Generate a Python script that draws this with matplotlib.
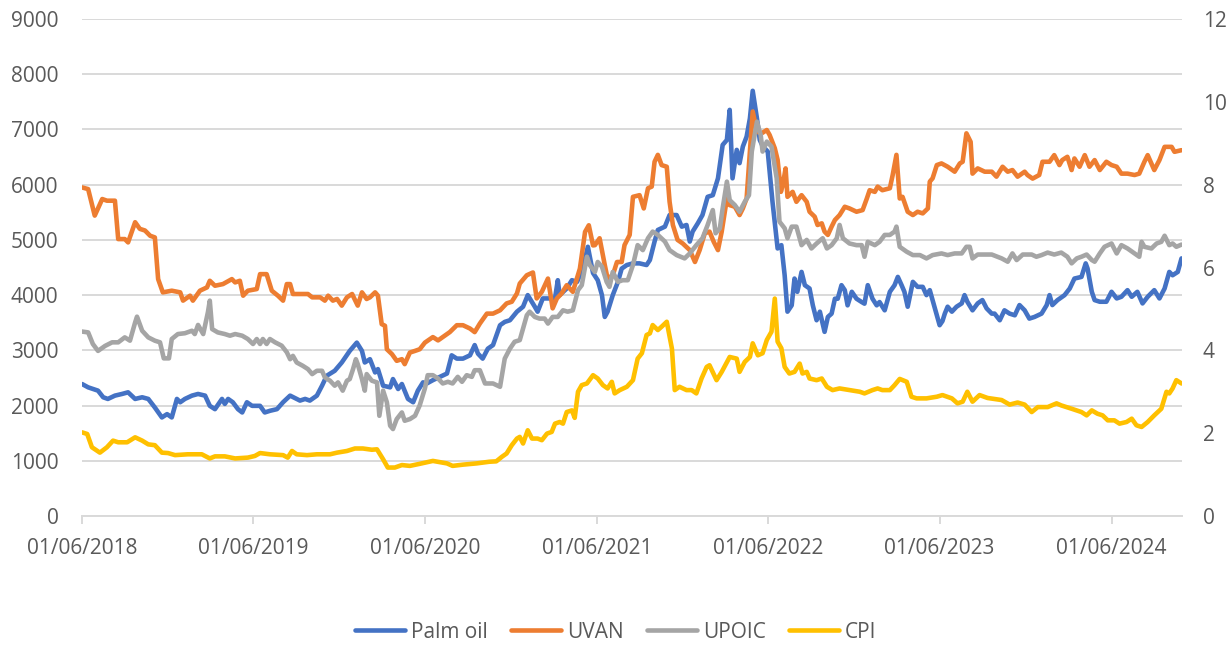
import matplotlib
matplotlib.use("Agg")
import matplotlib.pyplot as plt
import matplotlib.dates as mdates
import pandas as pd
from matplotlib.lines import Line2D

# ---------------- data ----------------
palm_oil = [
("2018-06-01",2390),("2018-06-14",2330),("2018-07-05",2270),("2018-07-16",2150),("2018-07-26",2120),("2018-08-10",2180),("2018-08-25",2210),("2018-09-07",2240),("2018-09-22",2120),("2018-10-07",2150),("2018-10-20",2120),("2018-11-03",1965),("2018-11-18",1785),("2018-11-29",1845),("2018-12-09",1785),("2018-12-20",2120),("2018-12-27",2060),
("2019-01-06",2120),("2019-01-21",2180),("2019-02-03",2210),("2019-02-18",2180),("2019-02-28",1995),("2019-03-11",1935),("2019-03-26",2120),("2019-04-01",2030),("2019-04-08",2120),("2019-04-18",2060),("2019-04-29",1935),("2019-05-08",1875),("2019-05-18",2060),("2019-05-29",1995),("2019-06-15",1995),("2019-06-25",1875),("2019-07-06",1905),("2019-07-21",1935),("2019-08-03",2060),("2019-08-18",2180),("2019-09-08",2090),("2019-09-19",2120),("2019-09-29",2090),("2019-10-14",2180),("2019-10-25",2360),("2019-11-04",2540),("2019-11-21",2630),("2019-12-06",2780),("2019-12-23",2990),
("2020-01-07",3140),("2020-01-18",2990),("2020-01-24",2780),("2020-02-04",2840),("2020-02-15",2600),("2020-02-21",2660),("2020-03-03",2360),("2020-03-18",2330),("2020-03-24",2480),("2020-04-04",2300),("2020-04-12",2390),("2020-04-25",2120),("2020-05-06",2060),("2020-05-16",2270),("2020-05-27",2420),("2020-06-04",2400),("2020-06-17",2460),("2020-07-02",2520),("2020-07-17",2580),("2020-07-27",2910),("2020-08-07",2850),("2020-08-20",2850),("2020-09-04",2910),("2020-09-14",3095),("2020-09-21",2940),("2020-10-01",2850),("2020-10-12",3030),("2020-10-23",3095),("2020-11-07",3455),("2020-11-17",3515),("2020-11-28",3545),("2020-12-13",3700),("2020-12-26",3790),
("2021-01-05",4000),("2021-01-20",3790),("2021-01-26",3700),("2021-02-06",3940),("2021-02-21",3940),("2021-03-04",3940),("2021-03-10",4270),("2021-03-14",4000),("2021-03-29",4120),("2021-04-09",4270),("2021-04-20",4240),("2021-05-02",4480),("2021-05-13",4875),("2021-05-24",4400),("2021-06-03",4270),("2021-06-12",4000),("2021-06-18",3605),("2021-06-24",3700),("2021-07-05",4000),("2021-07-16",4240),("2021-07-24",4480),("2021-08-04",4545),("2021-08-17",4575),("2021-08-31",4575),("2021-09-15",4545),("2021-09-22",4635),("2021-10-02",4970),("2021-10-09",5180),("2021-10-24",5240),("2021-11-03",5450),("2021-11-18",5450),("2021-11-29",5240),("2021-12-09",5270),("2021-12-16",4970),("2021-12-22",5150),
("2022-01-02",5300),("2022-01-12",5450),("2022-01-23",5780),("2022-02-03",5810),("2022-02-14",6115),("2022-02-24",6720),("2022-03-05",6810),("2022-03-11",7355),("2022-03-17",6115),("2022-03-26",6630),("2022-04-01",6390),("2022-04-08",6690),("2022-04-16",6870),("2022-04-23",7200),("2022-04-29",7700),("2022-05-08",7200),("2022-05-14",6810),("2022-05-20",6700),("2022-05-31",6600),("2022-06-10",5700),("2022-06-21",4845),("2022-06-29",4905),("2022-07-06",4360),("2022-07-12",3700),("2022-07-21",3815),("2022-07-27",4300),("2022-08-02",4060),("2022-08-11",4420),("2022-08-18",4180),("2022-08-28",4120),("2022-09-04",3815),("2022-09-12",3545),("2022-09-19",3700),("2022-09-29",3335),("2022-10-06",3605),("2022-10-14",3665),("2022-10-21",3935),("2022-10-27",3935),("2022-11-04",4180),("2022-11-11",4090),("2022-11-17",3815),("2022-11-26",4060),("2022-12-06",3935),("2022-12-17",3875),("2022-12-23",3845),("2022-12-30",4180),
("2023-01-09",3935),("2023-01-18",3815),("2023-01-24",3875),("2023-02-04",3725),("2023-02-15",4060),("2023-02-25",4180),("2023-03-04",4330),("2023-03-12",4180),("2023-03-18",4060),("2023-03-25",3790),("2023-04-05",4240),("2023-04-15",4150),("2023-04-26",4150),("2023-05-04",4000),("2023-05-11",4090),("2023-05-21",3790),("2023-06-01",3455),("2023-06-07",3530),("2023-06-12",3665),("2023-06-18",3790),("2023-06-27",3700),("2023-07-07",3790),("2023-07-18",3850),("2023-07-24",4000),("2023-07-30",3880),("2023-08-10",3725),("2023-08-21",3850),("2023-08-31",3910),("2023-09-09",3760),("2023-09-20",3665),("2023-09-26",3665),("2023-10-07",3545),("2023-10-17",3725),("2023-10-28",3665),("2023-11-08",3635),("2023-11-18",3820),("2023-11-29",3725),("2023-12-09",3575),("2023-12-20",3605),
("2024-01-04",3665),("2024-01-15",3820),("2024-01-21",4000),("2024-01-27",3820),("2024-02-07",3910),("2024-02-22",4000),("2024-03-04",4120),("2024-03-14",4300),("2024-03-29",4330),("2024-04-07",4575),("2024-04-11",4480),("2024-04-20",4060),("2024-04-26",3910),("2024-05-07",3880),("2024-05-21",3880),("2024-06-01",4060),("2024-06-12",3940),("2024-06-22",3970),("2024-07-05",4090),("2024-07-14",3970),("2024-07-26",4060),("2024-08-06",3850),("2024-08-17",3970),("2024-08-31",4090),("2024-09-11",3940),("2024-09-22",4120),("2024-10-02",4420),("2024-10-09",4360),("2024-10-20",4420),("2024-10-28",4665)]

uvan = [
("2018-06-01",5950),("2018-06-14",5920),("2018-06-28",5440),("2018-07-14",5740),("2018-07-24",5710),("2018-08-10",5710),("2018-08-17",5015),("2018-08-31",5015),("2018-09-07",4955),("2018-09-22",5320),("2018-10-02",5200),("2018-10-13",5170),("2018-10-24",5075),("2018-11-03",5045),("2018-11-10",4290),("2018-11-20",4050),("2018-12-09",4080),("2018-12-27",4050),
("2019-01-02",3900),("2019-01-17",3990),("2019-01-23",3900),("2019-02-07",4080),("2019-02-22",4140),("2019-02-28",4260),("2019-03-11",4170),("2019-03-28",4200),("2019-04-16",4290),("2019-04-23",4230),("2019-05-03",4260),("2019-05-10",3990),("2019-05-20",4080),("2019-06-08",4110),("2019-06-15",4380),("2019-06-29",4380),("2019-07-10",4080),("2019-07-23",3990),("2019-08-03",3900),("2019-08-11",4200),("2019-08-18",4200),("2019-08-24",4020),("2019-09-25",4020),("2019-10-04",3960),("2019-10-21",3960),("2019-10-31",3900),("2019-11-07",3990),("2019-11-17",3900),("2019-11-26",3930),("2019-12-06",3810),("2019-12-17",3960),("2019-12-28",4020),
("2020-01-09",3810),("2020-01-18",4050),("2020-01-28",3930),("2020-02-04",3960),("2020-02-15",4050),("2020-02-21",3990),("2020-02-29",3475),("2020-03-07",3445),("2020-03-11",3020),("2020-03-22",2930),("2020-04-01",2810),("2020-04-12",2840),("2020-04-18",2750),("2020-04-29",2960),("2020-05-10",2990),("2020-05-20",3020),("2020-05-31",3140),("2020-06-17",3240),("2020-06-28",3180),("2020-07-08",3240),("2020-07-23",3330),("2020-08-07",3455),("2020-08-20",3455),("2020-09-04",3395),("2020-09-14",3330),("2020-09-25",3485),("2020-10-10",3665),("2020-10-23",3665),("2020-11-07",3725),("2020-11-21",3850),("2020-12-02",3880),("2020-12-13",4030),("2020-12-19",4210),
("2021-01-03",4360),("2021-01-16",4410),("2021-01-24",3940),("2021-02-04",4060),("2021-02-17",4300),("2021-02-27",3760),("2021-03-08",3940),("2021-03-18",4030),("2021-03-29",4180),("2021-04-11",4060),("2021-04-26",4480),("2021-05-07",5145),("2021-05-15",5265),("2021-05-24",4900),("2021-05-28",4905),("2021-06-07",5030),("2021-06-18",4545),("2021-06-24",4300),("2021-07-05",4360),("2021-07-14",4600),("2021-07-24",4600),("2021-07-30",4905),("2021-08-10",5090),("2021-08-17",5780),("2021-08-31",5810),("2021-09-09",5570),("2021-09-18",5935),("2021-09-26",5965),("2021-10-02",6415),("2021-10-09",6540),("2021-10-17",6355),("2021-10-28",6325),("2021-11-03",5690),("2021-11-10",5270),("2021-11-20",5000),("2021-12-01",4935),("2021-12-16",4815),("2021-12-27",4600),
("2022-01-06",4815),("2022-01-17",5120),("2022-01-27",5150),("2022-02-05",4965),("2022-02-14",4815),("2022-02-22",5150),("2022-03-05",5750),("2022-03-11",5630),("2022-03-22",5600),("2022-04-01",5450),("2022-04-08",5570),("2022-04-16",5750),("2022-04-23",6600),("2022-04-29",7325),("2022-05-08",6960),("2022-05-18",6930),("2022-05-29",6990),("2022-06-04",6900),("2022-06-15",6660),("2022-06-21",6450),("2022-06-28",5870),("2022-07-02",5995),("2022-07-08",6295),("2022-07-12",5780),("2022-07-23",5870),("2022-07-31",5690),("2022-08-11",5810),("2022-08-22",5690),("2022-08-28",5510),("2022-09-08",5420),("2022-09-14",5270),("2022-09-23",5300),("2022-09-29",5150),("2022-10-06",5090),("2022-10-14",5240),("2022-10-21",5360),("2022-10-31",5450),("2022-11-11",5600),("2022-11-21",5570),("2022-12-06",5510),("2022-12-19",5540),("2022-12-28",5750),
("2023-01-03",5900),("2023-01-14",5870),("2023-01-20",5965),("2023-01-30",5900),("2023-02-15",5935),("2023-02-21",6175),("2023-03-01",6540),("2023-03-08",5750),("2023-03-14",5780),("2023-03-25",5510),("2023-04-05",5450),("2023-04-15",5510),("2023-04-26",5480),("2023-05-07",5570),("2023-05-11",6055),("2023-05-17",6115),("2023-05-26",6355),("2023-06-05",6385),("2023-06-18",6325),("2023-07-03",6235),("2023-07-14",6385),("2023-07-20",6415),("2023-07-28",6930),("2023-08-06",6775),("2023-08-10",6200),("2023-08-21",6295),("2023-09-05",6235),("2023-09-20",6235),("2023-09-30",6145),("2023-10-13",6325),("2023-10-24",6235),("2023-11-03",6265),("2023-11-14",6145),("2023-11-29",6235),("2023-12-05",6175),("2023-12-16",6110),("2023-12-30",6175),
("2024-01-06",6415),("2024-01-21",6415),("2024-01-31",6535),("2024-02-11",6355),("2024-02-17",6445),("2024-02-28",6505),("2024-03-08",6265),("2024-03-14",6475),("2024-03-25",6325),("2024-04-05",6535),("2024-04-15",6325),("2024-04-26",6445),("2024-05-07",6265),("2024-05-21",6415),("2024-06-01",6355),("2024-06-12",6325),("2024-06-22",6200),("2024-07-05",6200),("2024-07-20",6175),("2024-07-30",6200),("2024-08-10",6415),("2024-08-17",6535),("2024-08-31",6265),("2024-09-11",6445),("2024-09-22",6685),("2024-10-07",6685),("2024-10-13",6595),("2024-10-28",6625)]

upoic = [
("2018-06-01",3340),("2018-06-14",3325),("2018-06-24",3115),("2018-07-05",2990),("2018-07-20",3080),("2018-08-04",3145),("2018-08-17",3145),("2018-08-31",3235),("2018-09-11",3175),("2018-09-22",3505),("2018-09-26",3610),("2018-10-07",3355),("2018-10-20",3235),("2018-11-03",3175),("2018-11-14",3145),("2018-11-22",2855),("2018-12-03",2855),("2018-12-09",3205),("2018-12-22",3295),
("2019-01-06",3310),("2019-01-21",3355),("2019-01-27",3295),("2019-02-03",3460),("2019-02-14",3295),("2019-02-24",3690),("2019-02-28",3900),("2019-03-05",3385),("2019-03-17",3325),("2019-04-01",3295),("2019-04-12",3265),("2019-04-23",3295),("2019-05-08",3265),("2019-05-20",3205),("2019-05-31",3115),("2019-06-08",3205),("2019-06-15",3115),("2019-06-21",3205),("2019-06-29",3115),("2019-07-06",3205),("2019-07-17",3145),("2019-07-31",3085),("2019-08-11",2965),("2019-08-18",2840),("2019-08-24",2900),("2019-09-01",2780),("2019-09-14",2720),("2019-09-25",2660),("2019-10-04",2570),("2019-10-14",2630),("2019-10-25",2630),("2019-10-31",2510),("2019-11-11",2450),("2019-11-21",2360),("2019-11-28",2420),("2019-12-08",2270),("2019-12-17",2450),("2019-12-23",2480),("2019-12-30",2660),
("2020-01-05",2840),("2020-01-09",2750),("2020-01-18",2480),("2020-01-24",2270),("2020-01-28",2570),("2020-02-08",2450),("2020-02-19",2420),("2020-02-24",1815),("2020-03-03",2270),("2020-03-11",2060),("2020-03-18",1635),("2020-03-24",1575),("2020-04-01",1755),("2020-04-12",1875),("2020-04-18",1725),("2020-04-29",1755),("2020-05-10",1815),("2020-05-20",2005),("2020-05-31",2310),("2020-06-06",2550),("2020-06-17",2550),("2020-06-28",2490),("2020-07-08",2400),("2020-07-19",2430),("2020-07-29",2400),("2020-08-09",2520),("2020-08-18",2430),("2020-08-28",2550),("2020-09-08",2520),("2020-09-14",2640),("2020-09-25",2640),("2020-10-06",2400),("2020-10-23",2400),("2020-11-07",2340),("2020-11-17",2850),("2020-11-28",3030),("2020-12-08",3155),("2020-12-19",3185),("2020-12-26",3395),
("2021-01-03",3635),("2021-01-09",3700),("2021-01-20",3605),("2021-01-30",3575),("2021-02-10",3575),("2021-02-17",3485),("2021-02-27",3605),("2021-03-10",3605),("2021-03-21",3725),("2021-03-31",3700),("2021-04-11",3725),("2021-04-22",4090),("2021-04-30",4180),("2021-05-11",4695),("2021-05-17",4545),("2021-05-28",4420),("2021-06-03",4600),("2021-06-12",4515),("2021-06-22",4240),("2021-06-28",4150),("2021-07-05",4420),("2021-07-16",4240),("2021-07-26",4270),("2021-08-06",4270),("2021-08-17",4545),("2021-08-27",4905),("2021-09-07",4815),("2021-09-18",5030),("2021-09-28",5150),("2021-10-09",5090),("2021-10-24",4970),("2021-11-03",4815),("2021-11-18",4725),("2021-12-05",4665),("2021-12-16",4755),("2021-12-30",4905),
("2022-01-12",5030),("2022-01-23",5270),("2022-02-03",5540),("2022-02-09",5120),("2022-02-18",5210),("2022-02-24",5570),("2022-03-05",6055),("2022-03-11",5720),("2022-03-22",5630),("2022-04-01",5510),("2022-04-12",5690),("2022-04-21",5810),("2022-04-27",6600),("2022-05-08",7140),("2022-05-16",6900),("2022-05-20",6600),("2022-05-29",6780),("2022-06-08",6690),("2022-06-19",6115),("2022-06-25",5330),("2022-07-06",5210),("2022-07-12",5030),("2022-07-21",5240),("2022-07-31",5240),("2022-08-11",4905),("2022-08-22",5000),("2022-09-01",4845),("2022-09-12",4935),("2022-09-25",5030),("2022-10-04",4845),("2022-10-14",4905),("2022-10-25",5030),("2022-10-31",5270),("2022-11-07",5030),("2022-11-21",4935),("2022-12-06",4905),("2022-12-17",4905),("2022-12-23",4695),("2022-12-30",4965),
("2023-01-14",4905),("2023-01-24",4965),("2023-02-04",5090),("2023-02-15",5090),("2023-02-25",5150),("2023-03-01",5240),("2023-03-08",4875),("2023-03-23",4785),("2023-04-05",4725),("2023-04-20",4725),("2023-05-04",4665),("2023-05-17",4725),("2023-06-05",4755),("2023-06-18",4725),("2023-07-03",4755),("2023-07-18",4755),("2023-07-28",4875),("2023-08-04",4875),("2023-08-10",4665),("2023-08-21",4735),("2023-09-20",4735),("2023-10-11",4665),("2023-10-24",4605),("2023-11-03",4755),("2023-11-12",4635),("2023-11-25",4735),("2023-12-14",4735),("2023-12-24",4695),
("2024-01-04",4725),("2024-01-17",4770),("2024-01-31",4735),("2024-02-15",4770),("2024-02-28",4695),("2024-03-08",4575),("2024-03-19",4665),("2024-03-29",4695),("2024-04-09",4735),("2024-04-20",4635),("2024-04-26",4605),("2024-05-07",4755),("2024-05-17",4875),("2024-06-01",4935),("2024-06-12",4755),("2024-06-22",4905),("2024-07-05",4845),("2024-07-20",4755),("2024-07-30",4695),("2024-08-04",4965),("2024-08-10",4875),("2024-08-25",4845),("2024-09-05",4935),("2024-09-15",4965),("2024-09-22",5075),("2024-10-02",4905),("2024-10-09",4935),("2024-10-17",4875),("2024-10-28",4915)]

cpi = [
("2018-06-01",2.02),("2018-06-12",1.98),("2018-06-22",1.66),("2018-07-09",1.53),("2018-07-24",1.66),("2018-08-06",1.82),("2018-08-17",1.78),("2018-09-05",1.78),("2018-09-22",1.90),("2018-10-07",1.82),("2018-10-20",1.73),("2018-11-03",1.71),("2018-11-18",1.53),("2018-12-01",1.52),("2018-12-16",1.47),
("2019-01-12",1.49),("2019-02-11",1.49),("2019-02-28",1.39),("2019-03-11",1.44),("2019-04-01",1.44),("2019-04-23",1.39),("2019-05-20",1.41),("2019-06-04",1.45),("2019-06-15",1.52),("2019-07-06",1.49),("2019-08-03",1.47),("2019-08-13",1.41),("2019-08-22",1.57),("2019-09-01",1.49),("2019-09-23",1.47),("2019-10-14",1.49),("2019-11-11",1.49),("2019-11-26",1.53),("2019-12-17",1.57),
("2020-01-03",1.63),("2020-01-20",1.63),("2020-02-08",1.60),("2020-02-19",1.61),("2020-03-03",1.37),("2020-03-13",1.17),("2020-03-28",1.17),("2020-04-12",1.23),("2020-04-29",1.21),("2020-05-20",1.26),("2020-06-17",1.33),("2020-07-17",1.27),("2020-07-29",1.21),("2020-08-20",1.24),("2020-09-18",1.27),("2020-10-15",1.31),("2020-10-30",1.32),("2020-11-11",1.43),("2020-11-21",1.51),("2020-12-02",1.71),("2020-12-13",1.87),("2020-12-19",1.91),("2020-12-26",1.75),
("2021-01-05",2.07),("2021-01-14",1.87),("2021-01-26",1.87),("2021-02-04",1.83),("2021-02-15",1.99),("2021-02-25",2.03),("2021-03-04",2.23),("2021-03-14",2.27),("2021-03-21",2.23),("2021-03-29",2.51),("2021-04-09",2.55),("2021-04-15",2.37),("2021-04-22",3.00),("2021-04-30",3.16),("2021-05-11",3.20),("2021-05-24",3.40),("2021-06-03",3.32),("2021-06-14",3.16),("2021-06-24",3.08),("2021-07-03",3.24),("2021-07-09",2.96),("2021-07-20",3.04),("2021-08-04",3.12),("2021-08-17",3.28),("2021-08-27",3.80),("2021-09-05",3.93),("2021-09-15",4.37),("2021-09-22",4.41),("2021-09-28",4.61),("2021-10-09",4.49),("2021-10-17",4.57),("2021-10-28",4.69),("2021-11-08",4.04),("2021-11-14",3.04),("2021-11-24",3.12),("2021-12-09",3.04),("2021-12-20",3.04),("2021-12-30",2.96),
("2022-01-10",3.32),("2022-01-21",3.60),("2022-01-27",3.64),("2022-02-11",3.28),("2022-02-22",3.48),("2022-03-11",3.84),("2022-03-26",3.80),("2022-04-01",3.48),("2022-04-12",3.72),("2022-04-23",3.84),("2022-04-29",4.17),("2022-05-10",3.88),("2022-05-20",3.93),("2022-05-29",4.25),("2022-06-08",4.45),("2022-06-15",5.25),("2022-06-21",4.21),("2022-06-29",4.05),("2022-07-06",3.60),("2022-07-16",3.44),("2022-07-27",3.48),("2022-08-07",3.68),("2022-08-13",3.44),("2022-08-22",3.48),("2022-08-28",3.32),("2022-09-12",3.28),("2022-09-23",3.32),("2022-10-04",3.12),("2022-10-16",3.04),("2022-10-31",3.08),("2022-11-21",3.04),("2022-12-13",3.00),("2022-12-23",2.96),
("2023-01-09",3.04),("2023-01-20",3.08),("2023-01-30",3.04),("2023-02-15",3.04),("2023-02-25",3.16),("2023-03-08",3.31),("2023-03-23",3.24),("2023-04-02",2.88),("2023-04-13",2.84),("2023-05-04",2.84),("2023-05-26",2.88),("2023-06-07",2.92),("2023-06-27",2.84),("2023-07-09",2.72),("2023-07-20",2.76),("2023-07-30",3.00),("2023-08-10",2.76),("2023-08-25",2.92),("2023-09-11",2.85),("2023-10-11",2.80),("2023-10-28",2.69),("2023-11-14",2.74),("2023-11-29",2.69),("2023-12-14",2.51),("2023-12-27",2.63),
("2024-01-17",2.63),("2024-02-05",2.72),("2024-02-15",2.67),("2024-03-08",2.59),("2024-03-29",2.51),("2024-04-09",2.43),("2024-04-20",2.55),("2024-05-02",2.47),("2024-05-13",2.43),("2024-05-24",2.31),("2024-06-07",2.31),("2024-06-18",2.23),("2024-07-03",2.27),("2024-07-14",2.35),("2024-07-24",2.19),("2024-08-04",2.15),("2024-08-17",2.27),("2024-08-31",2.43),("2024-09-15",2.59),("2024-09-26",3.00),("2024-10-02",2.96),("2024-10-09",3.08),("2024-10-17",3.28),("2024-10-28",3.20)]

series_names = ["Palm oil", "UVAN", "UPOIC", "CPI"]
series_colors = ["#4472C4", "#ED7D31", "#A5A5A5", "#FFC000"]
x_tick_dates = ["2018-06-01", "2019-06-01", "2020-06-01", "2021-06-01",
                "2022-06-01", "2023-06-01", "2024-06-01"]
x_range = ("2018-06-01", "2024-10-29")
left_ticks = list(range(0, 9001, 1000))
right_ticks = list(range(0, 13, 2))

# ---------------- figure ----------------
plt.rcParams["font.family"] = ["Open Sans", "DejaVu Sans"]
TXT = "#595959"
GRID = "#D9D9D9"
FS = 15

fig = plt.figure(figsize=(12.32, 6.58), dpi=100)
ax = fig.add_axes([0.0666, 0.2158, 0.8928, 0.7553])
ax2 = ax.twinx()

def split(points):
    d = pd.to_datetime([p[0] for p in points])
    v = [p[1] for p in points]
    return d, v

LW = 3.3
for pts, col in zip([palm_oil, uvan, upoic], series_colors[:3]):
    d, v = split(pts)
    ax.plot(d, v, color=col, lw=LW, solid_joinstyle="round", solid_capstyle="round")
d, v = split(cpi)
ax2.plot(d, v, color=series_colors[3], lw=LW, solid_joinstyle="round", solid_capstyle="round")

ax.set_xlim(pd.Timestamp(x_range[0]), pd.Timestamp(x_range[1]))
ax.set_ylim(0, 9000)
ax.set_yticks(left_ticks)
ax2.set_ylim(0, 12)
ax2.set_yticks(right_ticks)
ax.set_xticks(pd.to_datetime(x_tick_dates))
ax.xaxis.set_major_formatter(mdates.DateFormatter("%d/%m/%Y"))

ax.yaxis.grid(True, color=GRID, lw=1.4)
ax.set_axisbelow(True)
for a in (ax, ax2):
    for s in ("top", "left", "right"):
        a.spines[s].set_visible(False)
    a.spines["bottom"].set_visible(False)
ax.spines["bottom"].set_visible(True)
ax.spines["bottom"].set_color(GRID)
ax.spines["bottom"].set_linewidth(1.4)

ax.tick_params(axis="x", length=6, width=1.4, color=GRID, labelsize=FS, labelcolor=TXT, pad=10)
ax.tick_params(axis="y", length=0, labelsize=FS, labelcolor=TXT, pad=17)
ax2.tick_params(axis="y", length=0, labelsize=FS, labelcolor=TXT, pad=15)

handles = [Line2D([0], [0], color=c, lw=LW, solid_capstyle="round") for c in series_colors]
fig.legend(handles, series_names, loc="lower center", bbox_to_anchor=(0.5, -0.005), ncol=4,
           frameon=False, fontsize=FS, handlelength=2.4, handletextpad=0.3,
           columnspacing=1.1, labelcolor=TXT)

fig.savefig("out.png", dpi=100)
